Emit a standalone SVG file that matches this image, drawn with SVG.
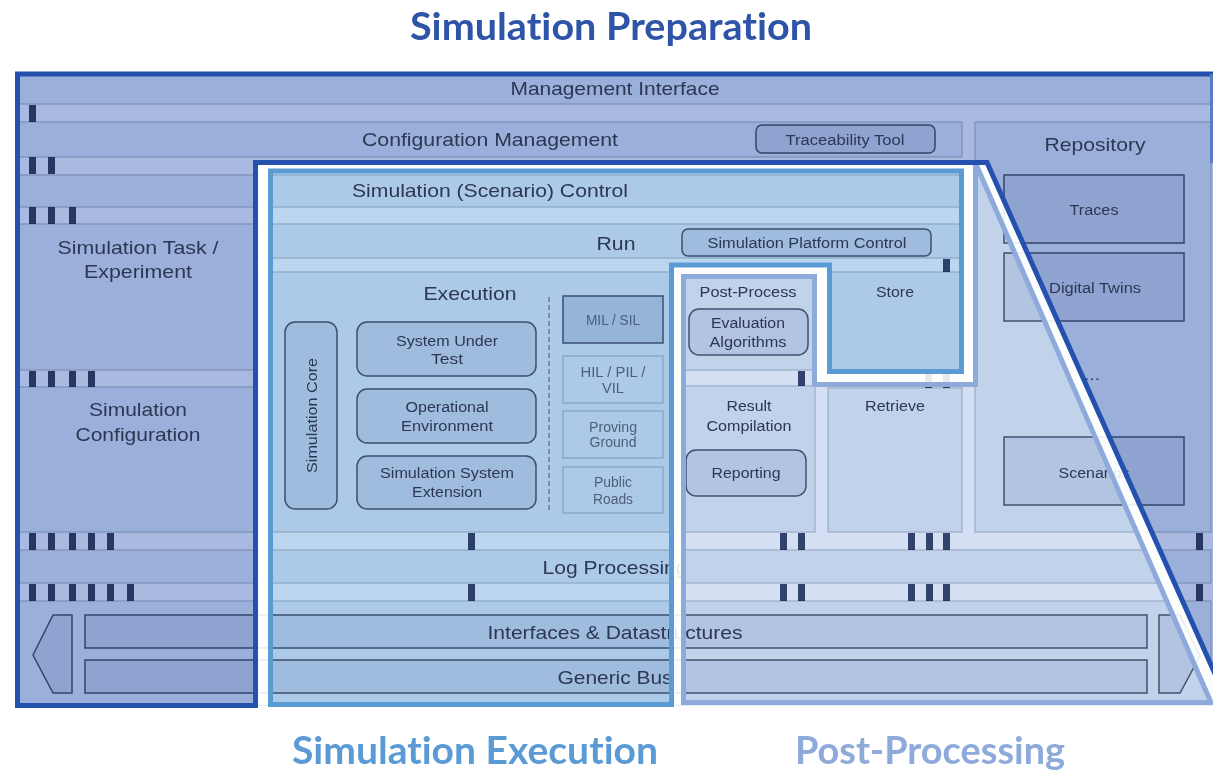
<svg xmlns="http://www.w3.org/2000/svg" width="1213" height="773" viewBox="0 0 1213 773">
<defs>
<style>
.band{fill:#E9F1F7;stroke:#C4CFD9;stroke-width:1.5;mix-blend-mode:multiply}
.box{fill:#ECEEF5;stroke:#56637A;stroke-width:1.5;mix-blend-mode:multiply}
.dbox{fill:#DCE3EE;stroke:#56637A;stroke-width:1.5;mix-blend-mode:multiply}
.lbox{fill:none;stroke:#C9D5E2;stroke-width:1.5;mix-blend-mode:multiply}
.bar{fill:#3A4C72;mix-blend-mode:multiply}
.dash{stroke:#6A7A92;stroke-width:1.5;stroke-dasharray:5 3;fill:none}
.t{font-family:"Liberation Sans",Arial,sans-serif;fill:#2C3754;text-anchor:middle}
.L{font-size:18.5px}
.M{font-size:15.5px}
.S{font-size:14px;fill:#4E5E7A}
.title{font-family:Lato,"Open Sans",sans-serif;font-weight:700;font-size:38px;text-anchor:middle;font-variant-ligatures:none;font-feature-settings:"liga" 0}
.ol{fill:none;stroke-width:5;stroke-linejoin:miter}
</style>
</defs>
<rect x="0" y="0" width="1213" height="773" fill="#FFFFFF"/>

<g id="regions">
<path d="M17.5,74 H1213 V666 L987,162.5 H255.5 V705.5 H17.5 Z" fill="#A9B9E0"/>
<path d="M270.5,171 H961.5 V371.5 H829.5 V265 H671.5 V704.5 H270.5 Z" fill="#BCD6F0"/>
<path d="M683.5,276.5 H814.5 V384.5 H975.5 V163 L1211,702.5 H683.5 Z" fill="#D4DFF3"/>
</g>

<g id="management-interface"><rect class="band" x="18" y="74" width="1193" height="30"/><text class="t L" x="615" y="95" textLength="209" lengthAdjust="spacingAndGlyphs">Management Interface</text></g>
<g id="configuration-management"><rect class="band" x="18" y="122" width="944" height="35"/><text class="t L" x="490" y="146" textLength="256" lengthAdjust="spacingAndGlyphs">Configuration Management</text></g>
<g id="traceability-tool"><rect class="box" x="756" y="125" width="179" height="28" rx="6"/><text class="t M" x="845" y="145" textLength="119" lengthAdjust="spacingAndGlyphs">Traceability Tool</text></g>
<g id="repository"><rect class="band" x="975" y="122" width="236" height="410"/><text class="t L" x="1095" y="151" textLength="101" lengthAdjust="spacingAndGlyphs">Repository</text></g>
<g id="traces"><rect class="box" x="1004" y="175" width="180" height="68"/><text class="t M" x="1094" y="215" textLength="49" lengthAdjust="spacingAndGlyphs">Traces</text></g>
<g id="digital-twins"><rect class="box" x="1004" y="253" width="180" height="68"/><text class="t M" x="1095" y="293" textLength="92" lengthAdjust="spacingAndGlyphs">Digital Twins</text></g>
<g id="more-items"><text class="t M" x="1092" y="380" textLength="16" lengthAdjust="spacingAndGlyphs">...</text></g>
<g id="scenarios"><rect class="box" x="1004" y="437" width="180" height="68"/><text class="t M" x="1094" y="478" textLength="71" lengthAdjust="spacingAndGlyphs">Scenarios</text></g>
<g id="simulation-control"><rect class="band" x="18" y="175" width="944" height="32"/><text class="t L" x="490" y="197" textLength="276" lengthAdjust="spacingAndGlyphs">Simulation (Scenario) Control</text></g>
<g id="simulation-task"><rect class="band" x="18" y="224" width="238" height="146"/><text class="t L" x="138" y="254" textLength="161" lengthAdjust="spacingAndGlyphs">Simulation Task /</text><text class="t L" x="138" y="278" textLength="108" lengthAdjust="spacingAndGlyphs">Experiment</text></g>
<g id="simulation-configuration"><rect class="band" x="18" y="387" width="238" height="145"/><text class="t L" x="138" y="416" textLength="98" lengthAdjust="spacingAndGlyphs">Simulation</text><text class="t L" x="138" y="441" textLength="125" lengthAdjust="spacingAndGlyphs">Configuration</text></g>
<g id="run"><rect class="band" x="256" y="224" width="706" height="34"/><text class="t L" x="616" y="250" textLength="39" lengthAdjust="spacingAndGlyphs">Run</text></g>
<g id="simulation-platform-control"><rect class="box" x="682" y="229" width="249" height="27" rx="6"/><text class="t M" x="807" y="248" textLength="199" lengthAdjust="spacingAndGlyphs">Simulation Platform Control</text></g>
<g id="execution"><rect class="band" x="258" y="272" width="419" height="260"/><text class="t L" x="470" y="300" textLength="93" lengthAdjust="spacingAndGlyphs">Execution</text></g>
<g id="simulation-core"><rect class="box" x="285" y="322" width="52" height="187" rx="10"/><text class="t M" transform="translate(317,415.5) rotate(-90)" x="0" y="0" textLength="115" lengthAdjust="spacingAndGlyphs">Simulation Core</text></g>
<g id="system-under-test"><rect class="box" x="357" y="322" width="179" height="54" rx="10"/><text class="t M" x="447" y="346" textLength="102" lengthAdjust="spacingAndGlyphs">System Under</text><text class="t M" x="447" y="364" textLength="32" lengthAdjust="spacingAndGlyphs">Test</text></g>
<g id="operational-environment"><rect class="box" x="357" y="389" width="179" height="54" rx="10"/><text class="t M" x="447" y="412" textLength="83" lengthAdjust="spacingAndGlyphs">Operational</text><text class="t M" x="447" y="431" textLength="92" lengthAdjust="spacingAndGlyphs">Environment</text></g>
<g id="simulation-system-extension"><rect class="box" x="357" y="456" width="179" height="53" rx="10"/><text class="t M" x="447" y="478" textLength="134" lengthAdjust="spacingAndGlyphs">Simulation System</text><text class="t M" x="447" y="497" textLength="70" lengthAdjust="spacingAndGlyphs">Extension</text></g>
<g id="mil-sil"><rect class="dbox" x="563" y="296" width="100" height="47"/><text class="t S" x="613" y="325" textLength="54" lengthAdjust="spacingAndGlyphs">MIL / SIL</text></g>
<g id="hil-pil-vil"><rect class="lbox" x="563" y="356" width="100" height="47"/><text class="t S" x="613" y="377" textLength="65" lengthAdjust="spacingAndGlyphs">HIL / PIL /</text><text class="t S" x="613" y="393" textLength="22" lengthAdjust="spacingAndGlyphs">VIL</text></g>
<g id="proving-ground"><rect class="lbox" x="563" y="411" width="100" height="47"/><text class="t S" x="613" y="432" textLength="48" lengthAdjust="spacingAndGlyphs">Proving</text><text class="t S" x="613" y="447" textLength="47" lengthAdjust="spacingAndGlyphs">Ground</text></g>
<g id="public-roads"><rect class="lbox" x="563" y="467" width="100" height="46"/><text class="t S" x="613" y="487" textLength="38" lengthAdjust="spacingAndGlyphs">Public</text><text class="t S" x="613" y="504" textLength="40" lengthAdjust="spacingAndGlyphs">Roads</text></g>
<g id="post-process"><rect class="band" x="685" y="272" width="130" height="98"/><text class="t M" x="748" y="297" textLength="97" lengthAdjust="spacingAndGlyphs">Post-Process</text></g>
<g id="evaluation-algorithms"><rect class="box" x="689" y="309" width="119" height="46" rx="10"/><text class="t M" x="748" y="328" textLength="74" lengthAdjust="spacingAndGlyphs">Evaluation</text><text class="t M" x="748" y="347" textLength="77" lengthAdjust="spacingAndGlyphs">Algorithms</text></g>
<g id="result-compilation"><rect class="band" x="685" y="386" width="130" height="146"/><text class="t M" x="749" y="411" textLength="45" lengthAdjust="spacingAndGlyphs">Result</text><text class="t M" x="749" y="431" textLength="85" lengthAdjust="spacingAndGlyphs">Compilation</text></g>
<g id="reporting"><rect class="box" x="686" y="450" width="120" height="46" rx="10"/><text class="t M" x="746" y="478" textLength="69" lengthAdjust="spacingAndGlyphs">Reporting</text></g>
<g id="store"><rect class="band" x="828" y="272" width="134" height="100"/><text class="t M" x="895" y="297" textLength="38" lengthAdjust="spacingAndGlyphs">Store</text></g>
<g id="retrieve"><rect class="band" x="828" y="388" width="134" height="144"/><text class="t M" x="895" y="411" textLength="60" lengthAdjust="spacingAndGlyphs">Retrieve</text></g>
<g id="log-processing"><rect class="band" x="18" y="550" width="1193" height="33"/><text class="t L" x="615" y="574" textLength="145" lengthAdjust="spacingAndGlyphs">Log Processing</text></g>
<g id="bus-area"><rect class="band" x="18" y="601" width="1193" height="104"/></g>
<g id="interfaces-datastructures"><rect class="box" x="85" y="615" width="1062" height="33"/><text class="t L" x="615" y="639" textLength="255" lengthAdjust="spacingAndGlyphs">Interfaces &amp; Datastructures</text></g>
<g id="generic-bus"><rect class="box" x="85" y="660" width="1062" height="33"/><text class="t L" x="615" y="684" textLength="115" lengthAdjust="spacingAndGlyphs">Generic Bus</text></g>
<g id="left-arrow"><polygon class="box" points="33,655 53,615 72,615 72,693 53,693"/></g>
<g id="right-arrow"><polygon class="box" points="1159,615 1180,615 1200,656 1180,693 1159,693"/></g>

<g id="connectors">
<line class="dash" x1="549" y1="297" x2="549" y2="513"/>
<rect class="bar" x="29" y="105" width="7" height="17"/>
<rect class="bar" x="29" y="157" width="7" height="17"/><rect class="bar" x="48" y="157" width="7" height="17"/>
<rect class="bar" x="29" y="207" width="7" height="17"/><rect class="bar" x="48" y="207" width="7" height="17"/><rect class="bar" x="69" y="207" width="7" height="17"/>
<rect class="bar" x="943" y="259" width="7" height="13"/>
<rect class="bar" x="29" y="371" width="7" height="16"/><rect class="bar" x="48" y="371" width="7" height="16"/><rect class="bar" x="69" y="371" width="7" height="16"/><rect class="bar" x="88" y="371" width="7" height="16"/>
<rect class="bar" x="798" y="371" width="7" height="15"/>
<rect class="bar" x="925" y="373" width="7" height="15"/><rect class="bar" x="943" y="373" width="7" height="15"/>
<rect class="bar" x="29" y="533" width="7" height="17"/><rect class="bar" x="48" y="533" width="7" height="17"/><rect class="bar" x="69" y="533" width="7" height="17"/><rect class="bar" x="88" y="533" width="7" height="17"/><rect class="bar" x="107" y="533" width="7" height="17"/>
<rect class="bar" x="468" y="533" width="7" height="17"/><rect class="bar" x="780" y="533" width="7" height="17"/><rect class="bar" x="798" y="533" width="7" height="17"/>
<rect class="bar" x="908" y="533" width="7" height="17"/><rect class="bar" x="926" y="533" width="7" height="17"/><rect class="bar" x="943" y="533" width="7" height="17"/><rect class="bar" x="1196" y="533" width="7" height="17"/>
<rect class="bar" x="29" y="584" width="7" height="17"/><rect class="bar" x="48" y="584" width="7" height="17"/><rect class="bar" x="69" y="584" width="7" height="17"/><rect class="bar" x="88" y="584" width="7" height="17"/><rect class="bar" x="107" y="584" width="7" height="17"/><rect class="bar" x="127" y="584" width="7" height="17"/>
<rect class="bar" x="468" y="584" width="7" height="17"/><rect class="bar" x="780" y="584" width="7" height="17"/><rect class="bar" x="798" y="584" width="7" height="17"/>
<rect class="bar" x="908" y="584" width="7" height="17"/><rect class="bar" x="926" y="584" width="7" height="17"/><rect class="bar" x="943" y="584" width="7" height="17"/><rect class="bar" x="1196" y="584" width="7" height="17"/>
</g>

<g id="gaps">
<path fill="#FFFFFF" fill-opacity="0.88" fill-rule="evenodd" d="M17.5,74 H1213 V705.5 H17.5 Z M17.5,74 H1213 V666 L987,162.5 H255.5 V705.5 H17.5 Z M270.5,171 H961.5 V371.5 H829.5 V265 H671.5 V704.5 H270.5 Z M683.5,276.5 H814.5 V384.5 H975.5 V163 L1211,702.5 H683.5 Z"/>
</g>

<g id="phase-outlines">
<path class="ol" stroke="#8EAADB" d="M975.5,163 V384.5 H814.5 V276.5 H683.5 V702.5 H1211 L975.5,163 Z"/>
<path class="ol" stroke="#5B9BD5" d="M270.5,171 H961.5 V371.5 H829.5 V265 H671.5 V704.5 H270.5 Z"/>
<path class="ol" stroke="#2450AE" d="M1215,74 H17.5 V705.5 H255.5 V162.5 H987 L1216,676"/>
<rect x="1210" y="74" width="3" height="89" fill="#5A7CC4"/>
</g>

<g id="titles">
<text class="title" x="611" y="40" fill="#2E54A8" textLength="402" lengthAdjust="spacingAndGlyphs">Simulation Preparation</text>
<text class="title" x="475" y="764" fill="#5B9BD5" textLength="366" lengthAdjust="spacingAndGlyphs">Simulation Execution</text>
<text class="title" x="930" y="764" fill="#8EAADB" textLength="270" lengthAdjust="spacingAndGlyphs">Post-Processing</text>
</g>
</svg>
